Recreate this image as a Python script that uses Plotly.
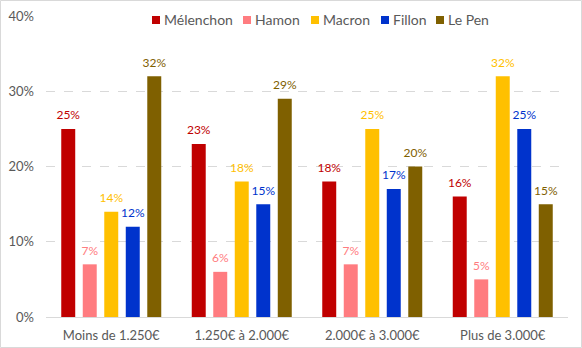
import plotly.graph_objects as go

categories = ["Moins de 1.250€", "1.250€ à 2.000€", "2.000€ à 3.000€", "Plus de 3.000€"]
series_names = ["Mélenchon", "Hamon", "Macron", "Fillon", "Le Pen"]
melenchon = [25, 23, 18, 16]
hamon = [7, 6, 7, 5]
macron = [14, 18, 25, 32]
fillon = [12, 15, 17, 25]
le_pen = [32, 29, 20, 15]
y_ticks = [0, 10, 20, 30, 40]
y_tick_labels = ["0%", "10%", "20%", "30%", "40%"]

values = [melenchon, hamon, macron, fillon, le_pen]
colors = ["#c00000", "#ff7c80", "#ffc000", "#0033cc", "#7f6000"]
font_family = "Lato, Open Sans, sans-serif"
grey = "#595959"
group_gap = 0.176

W, H = 582, 348
ml, mr, mt, mb = 46, 14, 16, 31
pw, ph = W - ml - mr, H - mt - mb


def px(x):
    return (x - ml) / pw


def py(y):
    return (H - mb - y) / ph


fig = go.Figure()
for name, vals, col in zip(series_names, values, colors):
    fig.add_trace(go.Bar(
        x=categories, y=vals, name=name,
        marker=dict(color=col, line=dict(width=0)),
        showlegend=False, hoverinfo="x+y+name",
    ))

# Value labels: grouped text points sitting just above each bar
for name, vals, col in zip(series_names, values, colors):
    fig.add_trace(go.Scatter(
        x=categories, y=vals, name=name,
        mode="markers+text",
        marker=dict(size=9, color="rgba(0,0,0,0)"),
        text=[f"{v}%" for v in vals],
        textposition="top center",
        textfont=dict(color=col, size=12, family=font_family),
        cliponaxis=False, showlegend=False, hoverinfo="skip",
    ))

# Legend drawn as small squares with labels along the top edge
legend_x = [152, 243, 311, 381, 436]
shapes = [dict(
    type="rect", xref="paper", yref="paper",
    x0=px(140), x1=px(500), y0=py(27), y1=py(8),
    fillcolor="white", line=dict(width=0), layer="above",
)]
annotations = []
for name, col, lx in zip(series_names, colors, legend_x):
    shapes.append(dict(
        type="rect", xref="paper", yref="paper",
        x0=px(lx), x1=px(lx + 8), y0=py(24), y1=py(16),
        fillcolor=col, line=dict(width=0), layer="above",
    ))
    annotations.append(dict(
        xref="paper", yref="paper", x=px(lx + 10), y=py(20),
        xanchor="left", yanchor="middle", showarrow=False,
        text=name, font=dict(size=14, color=grey, family=font_family),
    ))

# Light frame around the whole chart
shapes.append(dict(
    type="rect", xref="paper", yref="paper",
    x0=px(0.5), x1=px(W - 0.5), y0=py(H - 0.5), y1=py(0.5),
    line=dict(color="#d9d9d9", width=1), layer="above",
))

fig.update_layout(
    width=W, height=H,
    margin=dict(l=ml, r=mr, t=mt, b=mb, autoexpand=False),
    paper_bgcolor="white", plot_bgcolor="white",
    barmode="group", bargap=group_gap, bargroupgap=0.35,
    scattermode="group", scattergap=group_gap,
    font=dict(family=font_family, size=13, color=grey),
    showlegend=False,
    xaxis=dict(
        showgrid=False, showline=True, linecolor="#d9d9d9", linewidth=1,
        ticks="", tickfont=dict(size=13, color=grey),
        ticklabelstandoff=6, automargin=False,
    ),
    yaxis=dict(
        range=[0, 40], tickvals=y_ticks, ticktext=y_tick_labels,
        showgrid=True, gridcolor="#d9d9d9", griddash="dash", gridwidth=1,
        zeroline=False, showline=False, ticks="",
        tickfont=dict(size=13, color=grey),
        ticklabelstandoff=11, automargin=False,
    ),
    shapes=shapes,
    annotations=annotations,
)

fig.write_html("out.html")
